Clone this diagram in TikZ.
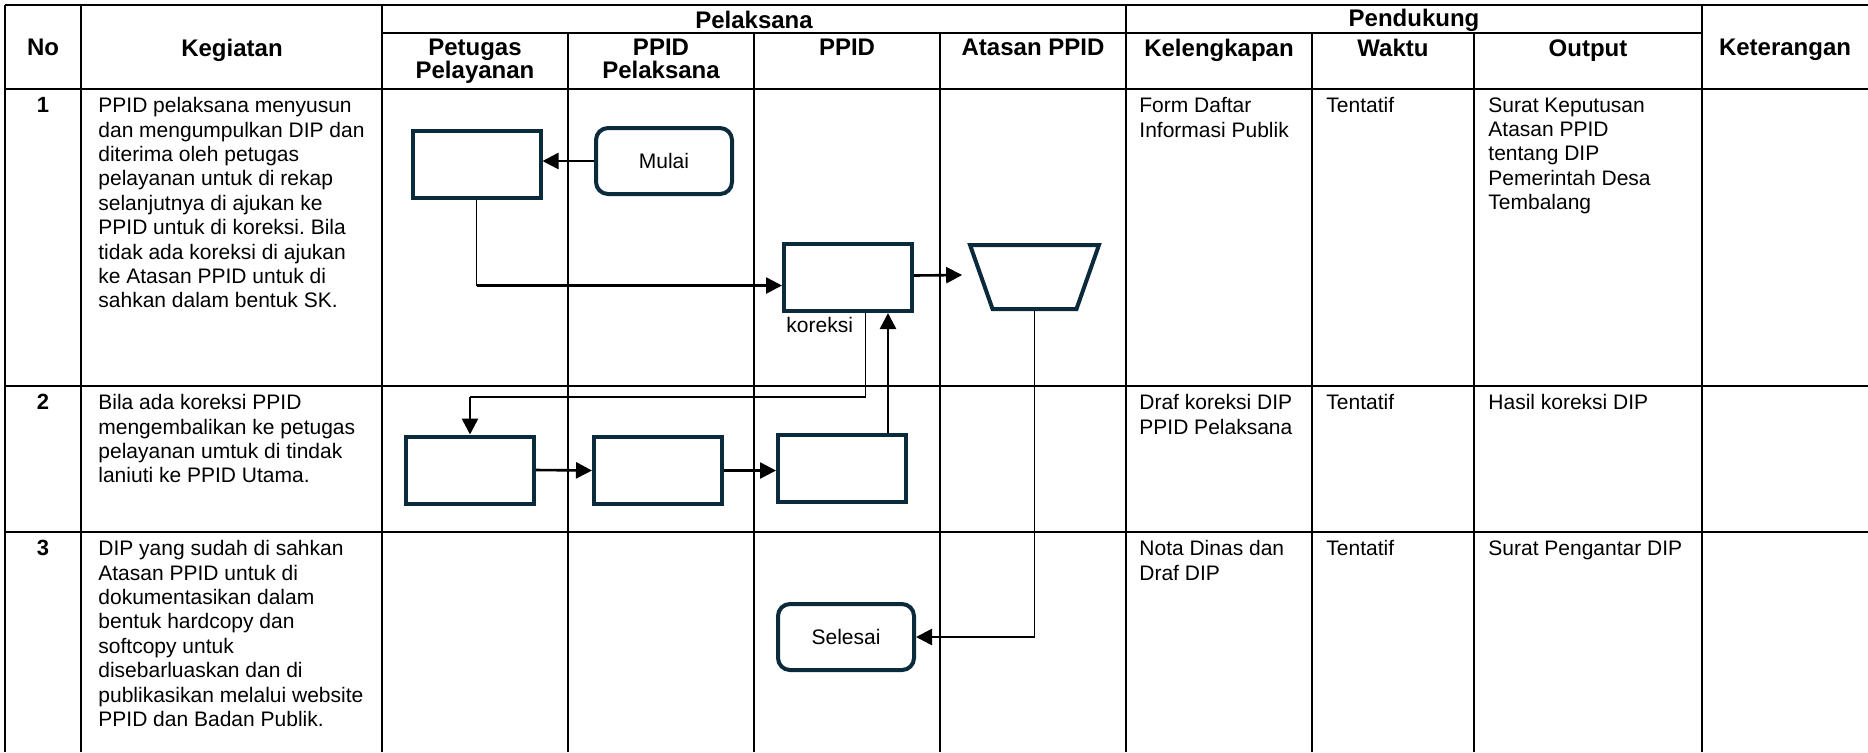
\documentclass[tikz,border=0pt]{standalone}
\usepackage{fontspec}
\setmainfont{Liberation Sans}
\usetikzlibrary{arrows.meta,shapes.geometric}
\definecolor{boxline}{HTML}{0B2A3B}
\frenchspacing

\begin{document}
\begin{tikzpicture}[x=0.5pt,y=-0.5pt,
    garis/.style={line width=1.1pt},
    judul/.style={font=\fontsize{12}{11.5}\selectfont\bfseries,align=center,inner sep=0pt},
    nomor/.style={font=\fontsize{11}{12}\selectfont\bfseries,anchor=north,inner sep=0pt},
    isi/.style={font=\fontsize{10.5}{12.2}\selectfont,align=left,anchor=north west,inner sep=0pt},
    proses/.style={draw=boxline,line width=2pt,minimum width=64pt,minimum height=33.5pt,inner sep=0pt},
    terminal/.style={proses,rounded corners=6pt,minimum width=68pt,minimum height=33pt,font=\fontsize{10.5}{12}\selectfont},
    keputusan/.style={draw=boxline,line width=2pt,trapezium,trapezium left angle=75,trapezium right angle=75,
      shape border rotate=180,trapezium stretches=true,minimum width=64.5pt,minimum height=32pt},
    tipis/.style={line width=0.6pt},
    alur/.style={line width=1.3pt,-{Triangle[length=8pt,width=8pt]}}]
  \useasboundingbox (0,0) rectangle (1868,752);

  \draw[garis] (5,5) -- (1868,5);
  \draw[garis] (382,33) -- (1702,33);
  \draw[garis] (5,89) -- (1868,89);
  \draw[garis] (5,386) -- (1868,386);
  \draw[garis] (5,532) -- (1868,532);
  \foreach \x in {5,81,382,1126,1702} \draw[garis] (\x,5) -- (\x,752);
  \foreach \x in {568,754,940,1312,1474} \draw[garis] (\x,33) -- (\x,752);

  \node[judul,anchor=north] (no) at (43,39) {No};
  \node[judul,anchor=north] (kegiatan) at (232,39) {Kegiatan};
  \node[judul] (pelaksana) at (754,20) {Pelaksana};
  \node[judul] (pendukung) at (1414,20) {Pendukung};
  \node[judul,anchor=north] (keterangan) at (1785,39) {Keterangan};
  \node[judul,anchor=north] (petugas) at (475,39) {Petugas\\Pelayanan};
  \node[judul,anchor=north] (ppidpel) at (661,39) {PPID\\Pelaksana};
  \node[judul,anchor=north] (ppid) at (847,39) {PPID};
  \node[judul,anchor=north] (atasan) at (1033,39) {Atasan PPID};
  \node[judul,anchor=north] (kelengkapan) at (1219,39) {Kelengkapan};
  \node[judul,anchor=north] (waktu) at (1393,39) {Waktu};
  \node[judul,anchor=north] (output) at (1588,39) {Output};

  \node[nomor] (n1) at (43,97) {1};
  \node[nomor] (n2) at (43,394) {2};
  \node[nomor] (n3) at (43,540) {3};

  \node[isi] (keg1) at (98,97) {PPID pelaksana menyusun\\dan mengumpulkan DIP dan\\diterima oleh petugas\\pelayanan untuk di rekap\\selanjutnya di ajukan ke\\PPID untuk di koreksi. Bila\\tidak ada koreksi di ajukan\\ke Atasan PPID untuk di\\sahkan dalam bentuk SK.};
  \node[isi] (kel1) at (1139,97) {Form Daftar\\Informasi Publik};
  \node[isi] (wak1) at (1326,97) {Tentatif};
  \node[isi] (out1) at (1488,97) {Surat Keputusan\\Atasan PPID\\tentang DIP\\Pemerintah Desa\\Tembalang};

  \node[isi] (keg2) at (98,394) {Bila ada koreksi PPID\\mengembalikan ke petugas\\pelayanan umtuk di tindak\\laniuti ke PPID Utama.};
  \node[isi] (kel2) at (1139,394) {Draf koreksi DIP\\PPID Pelaksana};
  \node[isi] (wak2) at (1326,394) {Tentatif};
  \node[isi] (out2) at (1488,394) {Hasil koreksi DIP};

  \node[isi] (keg3) at (98,540) {DIP yang sudah di sahkan\\Atasan PPID untuk di\\dokumentasikan dalam\\bentuk hardcopy dan\\softcopy untuk\\disebarluaskan dan di\\publikasikan melalui website\\PPID dan Badan Publik.};
  \node[isi] (kel3) at (1139,540) {Nota Dinas dan\\Draf DIP};
  \node[isi] (wak3) at (1326,540) {Tentatif};
  \node[isi] (out3) at (1488,540) {Surat Pengantar DIP};

  \node[proses] (terima) at (476.5,164) {};
  \node[terminal] (mulai) at (664,161) {Mulai};
  \node[proses] (periksa) at (848,277.5) {};
  \node[keputusan] (sahkan) at (1034.5,277) {};
  \node[isi,anchor=west] (koreksitxt) at (786,325) {koreksi};
  \node[proses] (kembali) at (470,470) {};
  \node[proses] (teruskan) at (658,470.5) {};
  \node[proses] (utama) at (842,468) {};
  \node[terminal] (selesai) at (846,637) {Selesai};

  \draw[alur] (mulai.west) -- (terima.east |- mulai.west);
  \coordinate (masuk) at ([yshift=-4pt]periksa.west);
  \draw[tipis] (terima.south) -- (terima.south |- masuk);
  \draw[alur] (terima.south |- masuk) -- (masuk);
  \draw[alur] ([yshift=1pt]periksa.east) -- ([xshift=-8.5pt,yshift=1pt]sahkan.west);
  \path ([xshift=8.75pt]periksa.south) coordinate (bawahB);
  \coordinate (balik) at (bawahB |- 0,397);
  \draw[tipis] (bawahB) -- (balik) -- (balik -| kembali.north);
  \draw[alur] (balik -| kembali.north) -- (kembali.north);
  \path ([xshift=23pt]utama.north) coordinate (atasF);
  \draw[alur] (atasF) -- (atasF |- periksa.south);
  \draw[alur] (kembali.east) -- (teruskan.west);
  \draw[alur] (teruskan.east) -- (teruskan.east -| utama.west);
  \coordinate (turun) at (sahkan.south |- selesai.east);
  \draw[tipis] (sahkan.south) -- (turun);
  \draw[alur] (turun) -- (selesai.east);
\end{tikzpicture}
\end{document}
